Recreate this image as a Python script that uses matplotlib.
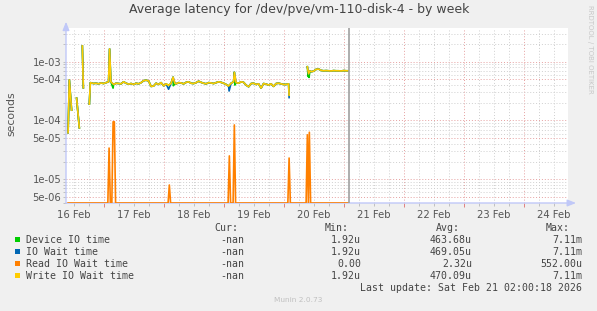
import numpy as np
import pandas as pd
import matplotlib
matplotlib.use('Agg')
import matplotlib.pyplot as plt
import matplotlib.dates as mdates
from matplotlib.ticker import LogLocator, FuncFormatter, NullFormatter

nan = np.nan
t0 = pd.Timestamp('2026-02-17 00:00')      # hours below are counted from here
last_update = pd.Timestamp('2026-02-21 02:00:18')
x_start, x_end = pd.Timestamp('2026-02-16 08:58'), pd.Timestamp('2026-02-24 17:45')
y_lo, y_hi = 3.95e-6, 3.74e-3

# write IO wait time (microseconds), nan = no data
write_h = [-14.2, -13.7, -12.8, -12.3,
           -10.8, -9.7, -9.2,
           -8.5, -8.1, -7.6,
           -5.7, -5.3, -4, -3, -2, -1, 0, 1, 2, 2.4, 2.9,
           4, 5, 6, 7, 8, 9, 10, 11, 12, 13,
           14, 15, 16, 17, 18, 19, 20, 21, 22, 23,
           24, 25, 26, 27, 27.8, 28.5, 29, 30, 31, 32,
           33, 34, 35, 36, 37, 38, 39, 40, 41, 42,
           43, 44, 45, 46, 47, 48, 49, 50, 51, 52,
           52.3, 53, 54, 55, 56, 57, 58, 59, 60, 61,
           62, 63, 64, 65, 66, 67, 68, 69, 70, 71,
           72, 73, 74, 74.2, 75,
           81.5, 82, 82.5, 83, 84, 85, 86, 87, 88, 89,
           90, 91, 92, 93, 94, 95, 96, 97, 97.8]
write_us = [62, 490, 150, nan,
            240, 75, nan,
            1850, 360, nan,
            190, 440, 425, 430, 420, 435, 425, 440, 455, 1650, 455,
            410, 430, 425, 420, 455, 430, 415, 425, 410, 430,
            420, 440, 475, 485, 470, 380, 385, 430, 410, 440,
            390, 420, 395, 430, 545, 430, 420, 440, 435, 420,
            445, 455, 430, 425, 440, 465, 445, 430, 420, 440,
            435, 425, 440, 455, 445, 430, 410, 385, 430, 455,
            660, 440, 430, 455, 445, 400, 375, 425, 430, 410,
            420, 355, 425, 415, 400, 420, 380, 425, 430, 420,
            410, 410, 420, 270, nan,
            820, 620, 700, 675, 690, 740, 750, 710, 700, 705,
            700, 695, 705, 700, 700, 695, 705, 700, 700]

# where device / io wait differ from write (hour: microseconds)
device_dips = {3.8: 355, 27.9: 390, 52.5: 400, 81.8: 560, 82.2: 540}
iowait_dips = {26.0: 340, 50.2: 317, 74.2: 245}

# read IO wait time (microseconds)
read_h = [-14.2, 1.7, 2.2, 2.7, 3.3, 3.8, 4.3, 4.8, 25.8, 26.3, 26.8,
          49.8, 50.3, 50.8, 51.8, 52.3, 52.8, 73.7, 74.2, 74.7,
          81.0, 81.5, 81.9, 82.3, 82.8, 97.8]
read_us = [0, 0, 34, 0, 0, 95, 95, 0, 0, 8, 0,
           0, 25, 0, 0, 84, 0, 0, 23, 0,
           0, 57, 0, 63, 0, 0]

labels = ['Device IO time', 'IO Wait time', 'Read IO Wait time', 'Write IO Wait time']
colors = ['#00cc00', '#0066b3', '#ff8000', '#ffcc00']
cur = ['-nan', '-nan', '-nan', '-nan']
mins = ['1.92u', '1.92u', '0.00', '1.92u']
avgs = ['463.68u', '469.05u', '2.32u', '470.09u']
maxs = ['7.11m', '7.11m', '552.00u', '7.11m']


def series(h, v, dips=None):
    s = pd.Series(v, index=h, dtype=float)
    if dips:
        for k, val in dips.items():
            s.loc[k] = val
        s = s.sort_index()
    return t0 + pd.to_timedelta(s.index, unit='h'), s.values * 1e-6


W, H = 597, 311
fig = plt.figure(figsize=(W / 100, H / 100), dpi=100, facecolor='#f0f0f0')
ax = fig.add_axes([66 / W, 1 - 203 / H, 502 / W, 175 / H])
ax.set_facecolor('white')


def fx(x):
    return x / W


def fy(y):
    return 1 - y / H


wt, wv = series(write_h, write_us)
dt, dv = series(write_h, write_us, device_dips)
it, iv = series(write_h, write_us, iowait_dips)
rt, rv = series(read_h, read_us)
rv = np.where(rv > 0, rv, y_lo)   # zero drawn on the bottom edge like rrdtool

ax.plot(dt, dv, color=colors[0], lw=1.2, zorder=3)
ax.plot(it, iv, color=colors[1], lw=1.2, zorder=3)
ax.plot(rt, rv, color=colors[2], lw=1.2, zorder=3)
ax.plot(wt, wv, color=colors[3], lw=1.2, zorder=3)
ax.axvline(last_update, color='#a0a0a0', lw=1.2, zorder=4)

ax.set_yscale('log')
ax.set_ylim(y_lo, y_hi)
ax.set_xlim(x_start, x_end)
ax.yaxis.set_major_locator(LogLocator(base=10, subs=(1.0, 5.0), numticks=30))
ax.yaxis.set_minor_locator(LogLocator(base=10, subs=(2, 3, 4, 6, 7, 8, 9), numticks=30))
ax.yaxis.set_major_formatter(FuncFormatter(lambda v, p: '{:.0e}'.format(v)))
ax.yaxis.set_minor_formatter(NullFormatter())

ax.xaxis.set_major_locator(mdates.DayLocator())
ax.xaxis.set_minor_locator(mdates.HourLocator(byhour=[6, 12, 18]))
ax.xaxis.set_major_formatter(NullFormatter())
ax.xaxis.set_minor_formatter(FuncFormatter(
    lambda v, p: mdates.num2date(v).strftime('%d %b') if mdates.num2date(v).hour == 12 else ''))

ax.set_axisbelow(True)
ax.grid(which='major', color='#e6a0a0', ls=(0, (1, 2)), lw=0.7)
ax.grid(which='minor', color='#cfcfcf', ls=(0, (1, 2)), lw=0.7)
for s in ax.spines.values():
    s.set_visible(False)
ax.tick_params(axis='y', which='both', length=2, width=0.7, pad=1.5, labelsize=7.2,
               labelcolor='#555555', color='#c0c0c0')
ax.tick_params(axis='x', which='major', length=3, width=0.7, color='#e08080')
ax.tick_params(axis='x', which='minor', length=2, width=0.7, pad=3, labelsize=7.2,
               labelcolor='#555555', color='#c0c0c0')

# axis arrows
arrow = dict(arrowstyle='-|>,head_length=0.5,head_width=0.2', color='#c0c8f8', lw=1.0,
             shrinkA=0, shrinkB=0)
ax.annotate('', xy=(1.016, 0), xytext=(0, 0), xycoords='axes fraction',
            arrowprops=arrow, zorder=2, annotation_clip=False)
ax.annotate('', xy=(0, 1.036), xytext=(0, 0), xycoords='axes fraction',
            arrowprops=arrow, zorder=2, annotation_clip=False)

fig.text(fx(299), fy(10), 'Average latency for /dev/pve/vm-110-disk-4 - by week',
         ha='center', va='center', fontsize=9, color='#444444')
fig.text(fx(11), fy(114), 'seconds', rotation=90, ha='center', va='center',
         fontsize=7.8, color='#555555')
fig.text(fx(590), fy(5), 'RRDTOOL / TOBI OETIKER', rotation=270, ha='center', va='top',
         fontsize=5, color='#c8c8c8')

# legend table
mono = dict(family='DejaVu Sans Mono', fontsize=7.1, color='#444444', va='center')
for txt, xr in zip(['Cur:', 'Min:', 'Avg:', 'Max:'], [238, 349, 459.5, 570]):
    fig.text(fx(xr), fy(227.7), txt, ha='right', **mono)
for i in range(4):
    y = 239.7 + 12 * i
    fig.patches.append(plt.Rectangle((fx(14.5), fy(y + 2.7)), 5.4 / W, 5.4 / H,
                                     transform=fig.transFigure, facecolor=colors[i],
                                     edgecolor='none', figure=fig))
    fig.text(fx(25.9), fy(y), labels[i], ha='left', **mono)
    fig.text(fx(244.4), fy(y), cur[i], ha='right', **mono)
    fig.text(fx(360.9), fy(y), mins[i], ha='right', **mono)
    fig.text(fx(472), fy(y), avgs[i], ha='right', **mono)
    fig.text(fx(582.4), fy(y), maxs[i], ha='right', **mono)
fig.text(fx(582.4), fy(287.7), 'Last update: Sat Feb 21 02:00:18 2026', ha='right', **mono)
fig.text(fx(298), fy(300), 'Munin 2.0.73', ha='center', va='center', fontsize=5.3,
         color='#c0c0c0')

fig.savefig('out.png', dpi=100, facecolor=fig.get_facecolor())
